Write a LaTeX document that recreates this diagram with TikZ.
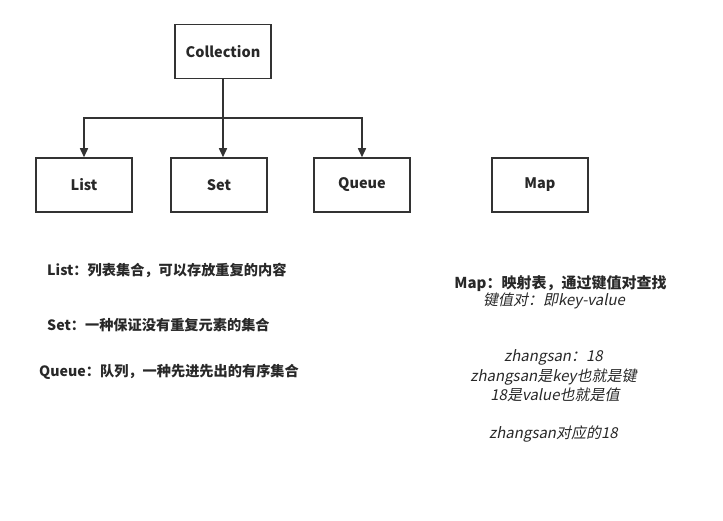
\documentclass[tikz,border=0pt]{standalone}
\usepackage{fontspec}
\setmainfont{Noto Sans CJK SC}[AutoFakeSlant=0.2]
\usetikzlibrary{arrows.meta,positioning}
\definecolor{linegray}{RGB}{51,51,51}
\definecolor{textgray}{RGB}{40,40,40}

\begin{document}
\begin{tikzpicture}[x=1pt, y=-1pt,
    box/.style={rectangle, draw=linegray, line width=1.5pt, minimum width=96pt, minimum height=54pt, font=\bfseries\fontsize{14.5}{17}\selectfont, text=textgray},
    note/.style={font=\bfseries\fontsize{14.2}{17}\selectfont, text=textgray, anchor=west, inner sep=0pt},
    mapnote/.style={font=\itshape\fontsize{15}{18}\selectfont, text=textgray, inner sep=0pt},
    link/.style={-{Triangle[length=9pt, width=8pt]}, line width=1.5pt, linegray}
]
\useasboundingbox (0,0) rectangle (723,521);

% boxes
\node[box] (coll) at (223, 51.5) {Collection};
\node[box] (list) at (84, 185) {List};
\node[box] (set) at (219, 185) {Set};
\node[box] (queue) at (362, 185) {Queue};
\node[box] (map) at (540, 185) {Map};

% tree
\coordinate (split) at (223, 118);
\draw[link] (coll.south -| split) -- (set.north -| split);
\draw[link] (split) -| (list.north);
\draw[link] (split) -| (queue.north);

% left notes
\node[note] (listtxt) at (47, 270) {List：列表集合，可以存放重复的内容};
\node[note] (settxt) at (47, 325) {Set：一种保证没有重复元素的集合};
\node[note] (queuetxt) at (39, 372) {Queue：队列，一种先进先出的有序集合};

% map notes
\node[mapnote, font=\bfseries\fontsize{15}{18}\selectfont] (maptxt) at (560.5, 284) {Map：映射表，通过键值对查找};
\node[mapnote] (kv) at (554, 301) {键值对：即key-value};
\node[mapnote] (ex1) at (553.5, 357) {zhangsan：18};
\node[mapnote] (ex2) at (553.5, 377) {zhangsan是key也就是键};
\node[mapnote] (ex3) at (555, 395) {18是value也就是值};
\node[mapnote] (ex4) at (553.5, 434) {zhangsan对应的18};

\end{tikzpicture}
\end{document}
